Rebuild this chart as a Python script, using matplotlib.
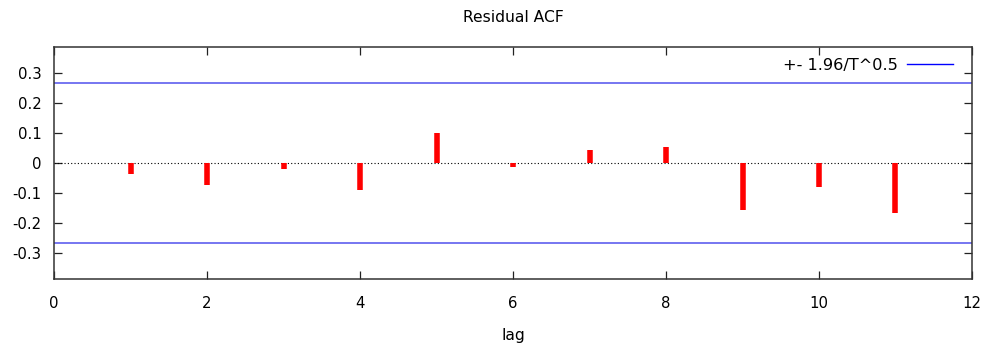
import matplotlib
matplotlib.use("Agg")
import matplotlib.pyplot as plt
from matplotlib.lines import Line2D

lags = [1, 2, 3, 4, 5, 6, 7, 8, 9, 10, 11]
acf = [-0.036, -0.072, -0.018, -0.090, 0.102, -0.014, 0.044, 0.054, -0.157, -0.081, -0.166]
band = 0.268
xticks = [0, 2, 4, 6, 8, 10, 12]
yticks = [-0.3, -0.2, -0.1, 0, 0.1, 0.2, 0.3]

plt.rcParams['font.family'] = ['DejaVu Sans']
fig = plt.figure(figsize=(9.88, 3.45), dpi=100)
ax = fig.add_axes([0.0547, 0.1904, 0.9291, 0.6742])

ax.vlines(lags, 0, acf, colors='#ff0000', linewidth=4.0, zorder=3)
ax.axhline(0, color='black', linewidth=0.8, linestyle=(0, (1, 2)), zorder=2)
ax.axhline(band, color='#6b6bf0', linewidth=1.3, zorder=2)
ax.axhline(-band, color='#6b6bf0', linewidth=1.3, zorder=2)

ax.set_xlim(0, 12)
ax.set_ylim(-0.388, 0.389)
ax.set_xticks(xticks)
ax.set_xticklabels([str(t) for t in xticks])
ax.set_yticks(yticks)
ax.set_yticklabels(['-0.3', '-0.2', '-0.1', '0', '0.1', '0.2', '0.3'])
ax.tick_params(direction='in', length=5.5, width=0.9, top=True, right=True,
               labelsize=10.7, pad=9, colors='#222222', labelcolor='black')
ax.tick_params(axis='x', pad=12)
for s in ax.spines.values():
    s.set_linewidth(1.1)
    s.set_color('#333333')

ax.set_title('Residual ACF', fontsize=11.2, pad=18)
ax.set_xlabel('lag', fontsize=11.2, labelpad=12)

h = Line2D([], [], color='#0000ff', linewidth=1.0)
ax.legend([h], ['+- 1.96/T^0.5'], loc='upper right', frameon=False, markerfirst=False,
          fontsize=11.6, handlelength=2.9, handletextpad=0.55, borderaxespad=0.3,
          bbox_to_anchor=(0.992, 1.0))

fig.savefig('out.png', dpi=100)
